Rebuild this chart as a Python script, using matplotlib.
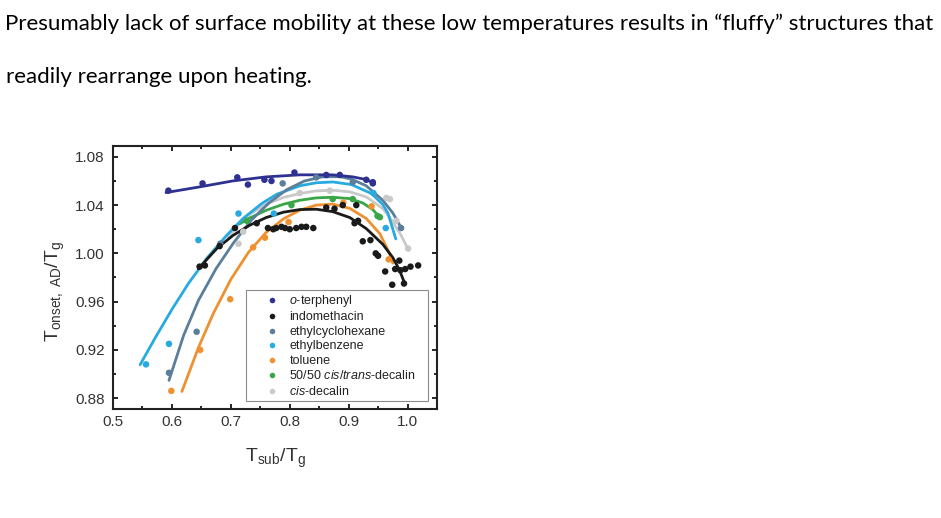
import matplotlib
matplotlib.use('Agg')
import matplotlib.pyplot as plt
from matplotlib.lines import Line2D
from matplotlib.ticker import MultipleLocator, FormatStrFormatter

plt.rcParams['font.family'] = 'Liberation Sans'
plt.rcParams['mathtext.fontset'] = 'custom'
plt.rcParams['mathtext.rm'] = 'Liberation Sans'
plt.rcParams['mathtext.it'] = 'Liberation Sans:italic'

# text above the figure
line1 = 'Presumably lack of surface mobility at these low temperatures results in \u201cfluffy\u201d structures that'
line2 = 'readily rearrange upon heating.'

# o-terphenyl
otp_x = [0.594, 0.652, 0.711, 0.729, 0.757, 0.769, 0.808, 0.862, 0.885, 0.930, 0.941, 0.941]
otp_y = [1.052, 1.058, 1.063, 1.057, 1.061, 1.060, 1.067, 1.065, 1.065, 1.061, 1.059, 1.058]
otp_fit_x = [0.590, 0.647, 0.704, 0.760, 0.817, 0.873, 0.907, 0.930, 0.944]
otp_fit_y = [1.0504, 1.0551, 1.0601, 1.0634, 1.0651, 1.0651, 1.0634, 1.0612, 1.0579]

# indomethacin
ind_x = [0.647, 0.656, 0.681, 0.707, 0.744, 0.763, 0.772, 0.777, 0.786, 0.792, 0.800, 0.811,
         0.820, 0.828, 0.840, 0.862, 0.876, 0.890, 0.913, 0.910, 0.916, 0.924, 0.937, 0.946,
         0.950, 0.962, 0.974, 0.979, 0.986, 0.988, 0.994, 0.996, 1.005, 1.018]
ind_y = [0.989, 0.990, 1.006, 1.021, 1.025, 1.021, 1.020, 1.021, 1.022, 1.021, 1.020, 1.021,
         1.022, 1.022, 1.021, 1.038, 1.037, 1.040, 1.040, 1.025, 1.027, 1.010, 1.011, 1.000,
         0.998, 0.985, 0.974, 0.987, 0.994, 0.986, 0.975, 0.987, 0.989, 0.990]
ind_fit_x = [0.645, 0.676, 0.704, 0.732, 0.760, 0.789, 0.817, 0.845, 0.873, 0.902, 0.930,
             0.958, 0.975, 0.986, 0.995]
ind_fit_y = [0.9873, 1.0039, 1.0150, 1.0233, 1.0297, 1.0341, 1.0363, 1.0366, 1.0346, 1.0297,
             1.0205, 1.0075, 0.9965, 0.9865, 0.9754]

# ethylcyclohexane
ech_x = [0.595, 0.642, 0.682, 0.788, 0.845, 0.907, 0.989]
ech_y = [0.901, 0.935, 1.008, 1.058, 1.063, 1.059, 1.021]
ech_fit_x = [0.595, 0.620, 0.645, 0.675, 0.705, 0.735, 0.765, 0.795, 0.825, 0.855, 0.885,
             0.905, 0.930, 0.958, 0.975, 0.989]
ech_fit_y = [0.8947, 0.9322, 0.9610, 0.9874, 1.0090, 1.0276, 1.0420, 1.0528, 1.0600, 1.0634,
             1.0636, 1.0615, 1.0560, 1.0440, 1.0335, 1.0214]

# ethylbenzene
eb_x = [0.556, 0.595, 0.645, 0.713, 0.773, 0.942, 0.963]
eb_y = [0.908, 0.925, 1.011, 1.033, 1.033, 1.050, 1.021]
eb_fit_x = [0.546, 0.572, 0.600, 0.628, 0.659, 0.693, 0.721, 0.753, 0.778, 0.817, 0.845,
            0.873, 0.905, 0.939, 0.958, 0.967, 0.980]
eb_fit_y = [0.9077, 0.9303, 0.9535, 0.9750, 0.9958, 1.0150, 1.0290, 1.0415, 1.0490, 1.0560,
            1.0585, 1.0592, 1.0570, 1.0495, 1.0405, 1.0330, 1.0120]

# toluene
tol_x = [0.599, 0.648, 0.699, 0.738, 0.758, 0.798, 0.891, 0.939, 0.968]
tol_y = [0.886, 0.920, 0.962, 1.005, 1.013, 1.026, 1.042, 1.039, 0.995]
tol_fit_x = [0.617, 0.645, 0.670, 0.700, 0.730, 0.760, 0.790, 0.817, 0.845, 0.873, 0.902,
             0.930, 0.953, 0.969, 0.975]
tol_fit_y = [0.8855, 0.9219, 0.9499, 0.9784, 1.0009, 1.0174, 1.0288, 1.0358, 1.0400, 1.0408,
             1.0373, 1.0289, 1.0163, 1.0003, 0.9919]

# 50/50 cis/trans-decalin
dec_x = [0.727, 0.803, 0.873, 0.907, 0.949, 0.953]
dec_y = [1.027, 1.040, 1.045, 1.045, 1.031, 1.030]
dec_fit_x = [0.715, 0.732, 0.760, 0.789, 0.817, 0.845, 0.873, 0.902, 0.924, 0.941, 0.953]
dec_fit_y = [1.0245, 1.0293, 1.0357, 1.0407, 1.0440, 1.0460, 1.0465, 1.0454, 1.0418, 1.0363, 1.0297]

# cis-decalin
cis_x = [0.713, 0.721, 0.817, 0.868, 0.964, 0.970, 0.981, 1.001]
cis_y = [1.008, 1.018, 1.050, 1.052, 1.046, 1.045, 1.027, 1.004]
cis_fit_x = [0.695, 0.715, 0.732, 0.760, 0.789, 0.817, 0.845, 0.873, 0.902, 0.930, 0.958,
             0.975, 0.989, 1.002]
cis_fit_y = [1.0136, 1.0247, 1.0324, 1.0407, 1.0463, 1.0496, 1.0518, 1.0523, 1.0510, 1.0468,
             1.0371, 1.0261, 1.0150, 1.0025]

labels = ['$\\mathit{o}$-terphenyl', 'indomethacin', 'ethylcyclohexane', 'ethylbenzene',
          'toluene', '50/50 $\\mathit{cis/trans}$-decalin', '$\\mathit{cis}$-decalin']
colors = ['#2e3192', '#1a1a1a', '#5b7e9a', '#27aae1', '#ef9130', '#3aa648', '#c9c9c9']

points = [(otp_x, otp_y), (ind_x, ind_y), (ech_x, ech_y), (eb_x, eb_y),
          (tol_x, tol_y), (dec_x, dec_y), (cis_x, cis_y)]
fits = [(otp_fit_x, otp_fit_y), (ind_fit_x, ind_fit_y), (ech_fit_x, ech_fit_y),
        (eb_fit_x, eb_fit_y), (tol_fit_x, tol_fit_y), (dec_fit_x, dec_fit_y),
        (cis_fit_x, cis_fit_y)]

fig = plt.figure(figsize=(9.41, 5.18), dpi=100)
W, H = 941, 518

# paragraph text, sized so the first line fills the page width
t1 = fig.text(5 / W, 1 - 30 / H, line1, family='Lato', fontsize=14, va='baseline', ha='left')
fig.canvas.draw()
w1 = t1.get_window_extent().width
fs = 14 * 930 / w1
t1.set_fontsize(fs)
fig.text(6 / W, 1 - 83 / H, line2, family='Lato', fontsize=fs, va='baseline', ha='left')

ax = fig.add_axes([113 / W, 1 - 409 / H, 324 / W, 263 / H])

# light series first so the darker ones sit on top
order = [6, 5, 4, 3, 2, 1, 0]
for i in order:
    fx, fy = fits[i]
    ax.plot(fx, fy, color=colors[i], lw=2.0, solid_capstyle='round', solid_joinstyle='round',
            zorder=2)
for i in order:
    px, py = points[i]
    ax.scatter(px, py, s=22, color=colors[i], edgecolors='none', zorder=3)

ax.set_xlim(0.5, 1.05)
ax.set_ylim(0.871, 1.089)
ax.xaxis.set_major_locator(MultipleLocator(0.1))
ax.xaxis.set_minor_locator(MultipleLocator(0.05))
ax.yaxis.set_major_locator(MultipleLocator(0.04))
ax.yaxis.set_minor_locator(MultipleLocator(0.02))
ax.xaxis.set_major_formatter(FormatStrFormatter('%.1f'))
ax.yaxis.set_major_formatter(FormatStrFormatter('%.2f'))
ax.tick_params(which='both', direction='in', top=True, right=True, width=1.2, labelsize=11,
               labelcolor='#333333')
ax.tick_params(which='major', length=3.8)
ax.tick_params(which='minor', length=2.2)
ax.tick_params(axis='y', pad=6)
ax.tick_params(axis='x', pad=4)
for sp in ax.spines.values():
    sp.set_linewidth(1.5)
    sp.set_color('#222222')

handles = [Line2D([], [], marker='o', ls='none', color=c, markersize=4, markeredgewidth=0)
           for c in colors]
leg = ax.legend(handles, labels, loc='lower left', bbox_to_anchor=(0.4105, 0.03, 0.5617, 0.41),
                mode='expand', fontsize=9, frameon=True, fancybox=False, framealpha=1,
                edgecolor='#8c8c8c', borderpad=0.25, labelspacing=0.2, handlelength=3.6,
                handletextpad=-0.38, borderaxespad=0)
leg.get_frame().set_linewidth(0.8)
for txt in leg.get_texts():
    txt.set_color('#222222')

fig.text(275 / W, 1 - 458 / H, '$\\mathregular{T_{sub}/T_g}$', fontsize=14,
         ha='center', va='center', color='#333333')
fig.text(55 / W, 1 - 291 / H, '$\\mathregular{T_{onset,\\ AD}/T_g}$', fontsize=14,
         ha='center', va='center', rotation=90, color='#333333')

fig.savefig('out.png', dpi=100, facecolor='white')
